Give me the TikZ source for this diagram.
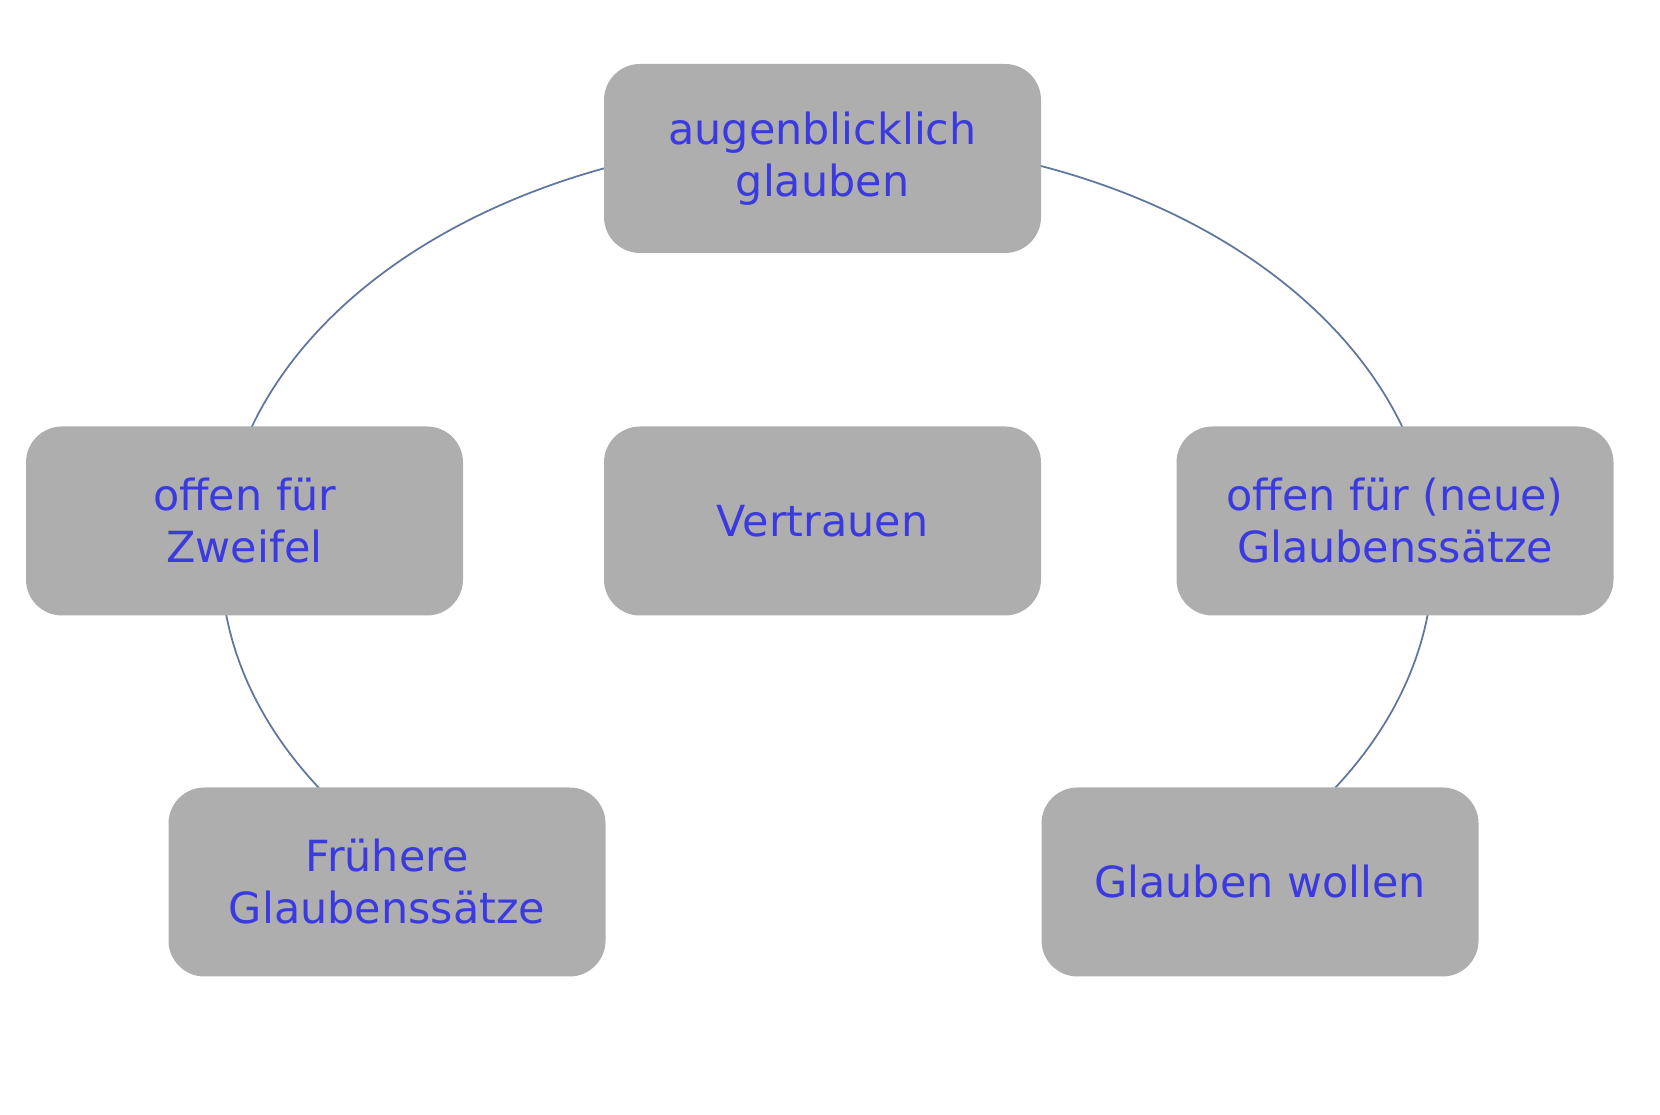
\documentclass[tikz,border=0pt]{standalone}
\usepackage{fontspec}
\setmainfont{DejaVu Sans}
\usepackage{xcolor}
\usepackage{tikz}
\usetikzlibrary{positioning, backgrounds}
\definecolor{boxgray}{RGB}{174,174,174}
\definecolor{txtblue}{RGB}{58,58,224}
\definecolor{ringline}{RGB}{95,118,160}

\begin{document}
\begin{tikzpicture}[
  every node/.style={font=\fontsize{12.2}{14.8}\selectfont},
  card/.style={rectangle, rounded corners=0.36cm, fill=boxgray, text=txtblue,
               minimum width=4.37cm, minimum height=1.89cm, align=center,
               inner sep=0pt},
  ring/.style={draw=ringline, line width=0.5pt},
]
\useasboundingbox (0,0) rectangle (16.6,11.15);

\coordinate (mid) at (8.27,5.56);

\node[card] (now)   at (8.225,9.565) {augenblicklich\\glauben};
\node[card] (doubt) at (2.445,5.94)  {offen für\\Zweifel};
\node[card] (trust) at (8.225,5.94)  {Vertrauen};
\node[card] (open)  at (13.95,5.94)  {offen für (neue)\\Glaubenssätze};
\node[card] (past)  at (3.87,2.33)   {Frühere\\Glaubenssätze};
\node[card] (want)  at (12.60,2.33)  {Glauben wollen};

\begin{scope}[on background layer]
\draw[ring] (mid) ++(213:6.06 and 4.20)
  arc[start angle=213, end angle=-33, x radius=6.06, y radius=4.20];
\end{scope}

\end{tikzpicture}
\end{document}
